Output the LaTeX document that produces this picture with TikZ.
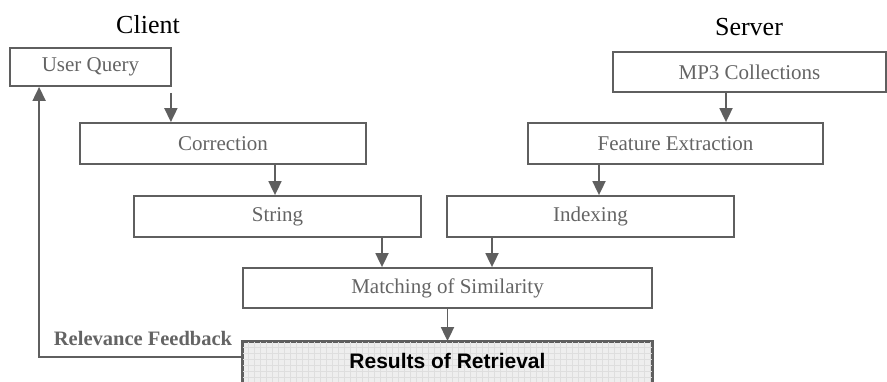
\documentclass[tikz,border=0pt]{standalone}
\usepackage{fontspec}
\setmainfont{Liberation Serif}
\setsansfont{Liberation Sans}
\usetikzlibrary{calc,positioning,arrows.meta}
\definecolor{boxgrey}{RGB}{95,95,95}
\definecolor{txtgrey}{RGB}{100,100,100}
\definecolor{resfill}{RGB}{238,238,238}
\definecolor{resgrid}{RGB}{222,222,222}
\tikzset{
  stepbox/.style={draw=boxgrey,line width=1.8pt,text=txtgrey,inner sep=0pt,
    font=\fontsize{21}{24}\selectfont},
  flow/.style={draw=boxgrey,line width=1.8pt,-{Triangle[length=14pt,width=13pt]}},
  sidefont/.style={font=\fontsize{26}{30}\selectfont},
}
\begin{document}
\begin{tikzpicture}[x=1pt,y=-1pt]
        \useasboundingbox (0,0) rectangle (887,381);
        \clip (0,0) rectangle (887,381);
        \node[sidefont] (client) at (148,25) {Client};
        \node[sidefont] (server) at (749,27) {Server};
        \node[stepbox,minimum width=161pt,minimum height=38pt] (query) at (90.5,67) {User Query};
        \node[stepbox,minimum width=286pt,minimum height=41pt] (corr) at (223,143.5) {Correction};
        \node[stepbox,minimum width=287pt,minimum height=41pt] (str) at (277.5,216.5) {String};
        \node[stepbox,minimum width=273pt,minimum height=40pt] (mp3) at (749.5,72) {MP3 Collections};
        \node[stepbox,minimum width=295pt,minimum height=41pt] (feat) at (675.5,143.5) {Feature Extraction};
        \node[stepbox,minimum width=287pt,minimum height=41pt] (index) at (590.5,216.5) {Indexing};
        \node[stepbox,minimum width=409pt,minimum height=40pt] (match) at (447.5,288) {Matching of Similarity};
        \node[stepbox,fill=resfill,minimum width=409pt,minimum height=60pt] (result) at (447.5,372) {};
        \begin{scope}
          \clip (result.north west) rectangle (result.south east);
          \foreach \gx in {0,6,...,408}{\draw[resgrid,line width=0.4pt] ([xshift=\gx pt]result.north west) -- ([xshift=\gx pt]result.south west);}
          \foreach \gy in {0,6,...,60}{\draw[resgrid,line width=0.4pt] ([yshift=-\gy pt]result.north west) -- ([yshift=-\gy pt]result.north east);}
        \end{scope}
        \draw[draw=boxgrey,line width=1.8pt] (result.north west) rectangle (result.south east);
        \node[font=\fontsize{21}{24}\selectfont\sffamily\bfseries] (restext) at (447.5,361) {Results of Retrieval};
        \node[font=\fontsize{20.5}{24}\selectfont\bfseries,text=txtgrey] (fblabel) at (143,338) {Relevance Feedback};
        \draw[flow] ([xshift=-1pt,yshift=-6pt]query.south east) -- ([xshift=-1pt]query.south east |- corr.north);
        \draw[flow] ([xshift=52pt]corr.south) -- ([xshift=-2.5pt]str.north);
        \draw[flow] ([xshift=104.5pt]str.south) -- ([xshift=-65.5pt]match.north);
        \draw[flow] ([xshift=-23.5pt]mp3.south) -- ([xshift=50.5pt]feat.north);
        \draw[flow] ([xshift=-76.5pt]feat.south) -- ([xshift=8.5pt]index.north);
        \draw[flow] ([xshift=-98.5pt]index.south) -- ([xshift=44.5pt]match.north);
        \draw[flow] (match.south) -- (result.north);
        \draw[flow] ([yshift=-16pt]result.north west) -| ([xshift=30pt]query.south west);
      \end{tikzpicture}
\end{document}
